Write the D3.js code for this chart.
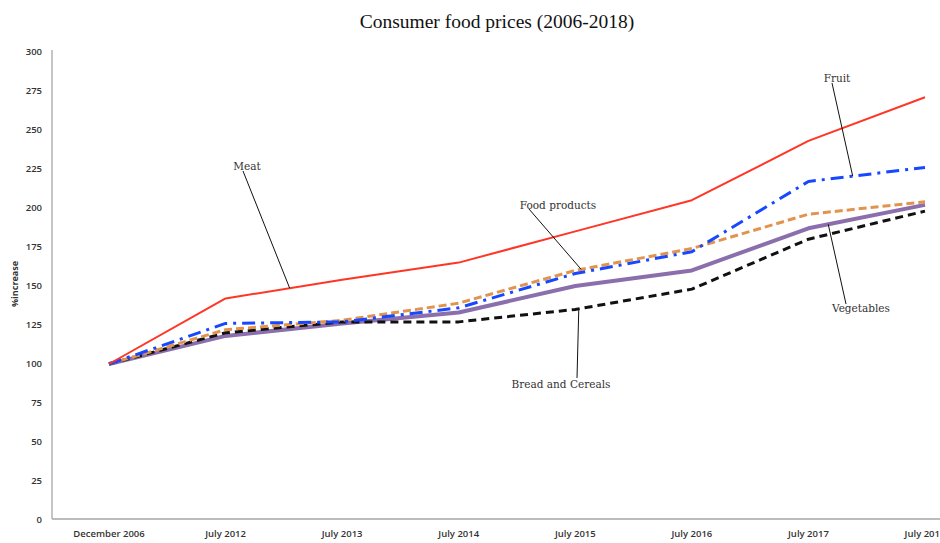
<!DOCTYPE html>
<html>
<head>
<meta charset="utf-8">
<script src="https://cdn.jsdelivr.net/npm/d3@7"></script>
<style>
  html, body { margin: 0; padding: 0; background: #fff; }
  svg { display: block; }
</style>
</head>
<body>
<svg id="chart" width="940" height="543"></svg>
<script>
// Consumer food price index, December 2006 = 100
const categories = ["December 2006", "July 2012", "July 2013", "July 2014", "July 2015", "July 2016", "July 2017", "July 2018"];
const meat        = [100, 142, 154, 165, 185, 205, 243, 271];
const fruit       = [100, 126, 127, 136, 158, 172, 217, 226];
const foodProducts= [100, 122, 128, 139, 160, 174, 196, 204];
const vegetables  = [100, 118, 126, 133, 150, 160, 187, 202];
const breadCereals= [100, 120, 127, 127, 135, 148, 180, 198];
const yTicks = [0, 25, 50, 75, 100, 125, 150, 175, 200, 225, 250, 275, 300];

const series = [
  { name: "Vegetables",        values: vegetables,   color: "#8b6fac", width: 4,   dash: null },
  { name: "Bread and Cereals", values: breadCereals, color: "#111111", width: 3,   dash: "8,5" },
  { name: "Food products",     values: foodProducts, color: "#e0944e", width: 3,   dash: "8,4" },
  { name: "Fruit",             values: fruit,        color: "#1747ff", width: 3,   dash: "13,6,3,6" },
  { name: "Meat",              values: meat,         color: "#ff3526", width: 2,   dash: null }
];

// Callout labels: text position and the point (fractional category index) on the series they point to
const callouts = [
  { series: "Meat",              text: "Meat",              tx: 247, ty: 170, lx: 243, ly: 171, at: 1.55 },
  { series: "Food products",     text: "Food products",     tx: 558, ty: 209, lx: 529, ly: 209, at: 4.05 },
  { series: "Bread and Cereals", text: "Bread and Cereals", tx: 561, ty: 388, lx: 577, ly: 378, at: 4.03 },
  { series: "Fruit",             text: "Fruit",             tx: 837, ty: 82,  lx: 832, ly: 83,  at: 6.38 },
  { series: "Vegetables",        text: "Vegetables",        tx: 861, ty: 312, lx: 846, ly: 304, at: 6.17 }
];

const svg = d3.select("#chart");
const axisLeftX = 52, axisBottomY = 519;

const x = d3.scalePoint().domain(categories).range([109, 925]);
const y = d3.scaleLinear().domain([0, 300]).range([520, 52]);

// Title
svg.append("text")
  .attr("x", 497).attr("y", 28)
  .attr("text-anchor", "middle")
  .attr("font-family", "'Liberation Serif', 'Times New Roman', serif")
  .attr("font-size", 19.5)
  .attr("fill", "#111")
  .text("Consumer food prices (2006-2018)");

// Axes lines
svg.append("line")
  .attr("x1", axisLeftX).attr("x2", axisLeftX)
  .attr("y1", y(300) - 2).attr("y2", axisBottomY)
  .attr("stroke", "#a6a6a6").attr("stroke-width", 1.3);
svg.append("line")
  .attr("x1", axisLeftX).attr("x2", 940)
  .attr("y1", axisBottomY).attr("y2", axisBottomY)
  .attr("stroke", "#a6a6a6").attr("stroke-width", 1.3);

const tickFont = "'Open Sans', 'Liberation Sans', sans-serif";

// Y tick labels
svg.append("g").selectAll("text")
  .data(yTicks)
  .join("text")
  .attr("x", 42)
  .attr("y", d => y(d))
  .attr("dy", "0.35em")
  .attr("text-anchor", "end")
  .attr("font-family", tickFont)
  .attr("font-size", 9.5)
  .attr("font-weight", 600)
  .attr("fill", "#333")
  .text(d => d);

// X tick labels
svg.append("g").selectAll("text")
  .data(categories)
  .join("text")
  .attr("x", d => x(d))
  .attr("y", 534)
  .attr("dy", "0.35em")
  .attr("text-anchor", "middle")
  .attr("font-family", tickFont)
  .attr("font-size", 9.5)
  .attr("font-weight", 600)
  .attr("fill", "#333")
  .text(d => d);

// Y axis title
svg.append("text")
  .attr("transform", "translate(18,284) rotate(-90)")
  .attr("text-anchor", "middle")
  .attr("font-family", tickFont)
  .attr("font-size", 9)
  .attr("font-weight", 700)
  .attr("fill", "#333")
  .text("%increase");

// Series lines
const line = d3.line()
  .x((d, i) => x(categories[i]))
  .y(d => y(d));

svg.append("g").selectAll("path")
  .data(series)
  .join("path")
  .attr("d", d => line(d.values))
  .attr("fill", "none")
  .attr("stroke", d => d.color)
  .attr("stroke-width", d => d.width)
  .attr("stroke-dasharray", d => d.dash)
  .attr("stroke-linejoin", "round");

// Point on a series at a fractional category index
function pointAt(values, t) {
  const i = Math.min(Math.floor(t), values.length - 2);
  const f = t - i;
  const x0 = x(categories[i]), x1 = x(categories[i + 1]);
  const v = values[i] + (values[i + 1] - values[i]) * f;
  return [x0 + (x1 - x0) * f, y(v)];
}

const labelFont = "'DejaVu Serif', 'Liberation Serif', serif";
const cg = svg.append("g");
callouts.forEach(c => {
  const s = series.find(d => d.name === c.series);
  const [px, py] = pointAt(s.values, c.at);
  cg.append("line")
    .attr("x1", c.lx).attr("y1", c.ly)
    .attr("x2", px).attr("y2", py)
    .attr("stroke", "#111").attr("stroke-width", 1);
  cg.append("text")
    .attr("x", c.tx).attr("y", c.ty)
    .attr("text-anchor", "middle")
    .attr("font-family", labelFont)
    .attr("font-size", 10.5)
    .attr("fill", "#333")
    .text(c.text);
});
</script>
</body>
</html>
